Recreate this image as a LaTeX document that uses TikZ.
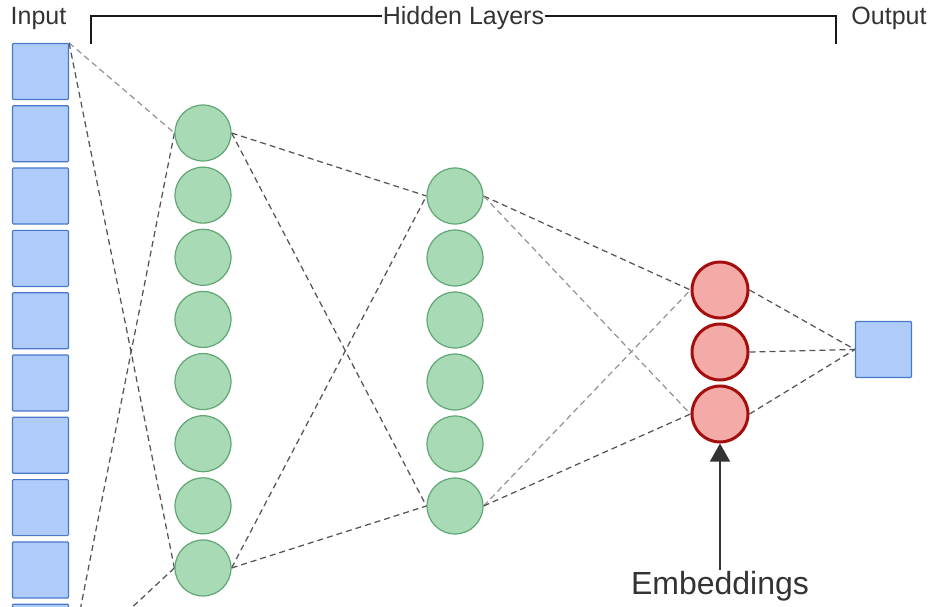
\documentclass[tikz,border=0pt]{standalone}
\usepackage{fontspec}
\setmainfont{Liberation Sans}
\usetikzlibrary{arrows.meta,positioning,backgrounds}
\definecolor{boxfill}{HTML}{AECBFA}
\definecolor{boxedge}{HTML}{4A78C8}
\definecolor{hidfill}{HTML}{A8DAB5}
\definecolor{hidedge}{HTML}{5FA672}
\definecolor{embfill}{HTML}{F4ABA8}
\definecolor{embedge}{HTML}{A50E0E}
\definecolor{txtgray}{HTML}{333333}
\definecolor{linkdark}{HTML}{555555}
\definecolor{linklight}{HTML}{959595}

\begin{document}
\begin{tikzpicture}[
    x=1pt, y=-1pt,
    % --- node styles ---
    inbox/.style={
      rectangle, rounded corners=1pt, draw=boxedge, fill=boxfill,
      line width=1.2pt, minimum size=56pt, inner sep=0pt},
    hidden/.style={
      circle, draw=hidedge, fill=hidfill, line width=1.2pt,
      minimum size=56pt, inner sep=0pt},
    embed/.style={
      circle, draw=embedge, fill=embfill, line width=3pt,
      minimum size=56pt, inner sep=0pt},
    toplabel/.style={
      font=\fontsize{25}{30}\selectfont, text=txtgray,
      text height=18pt, text depth=0pt, inner sep=0pt, inner xsep=1pt},
    emblabel/.style={
      font=\fontsize{32}{38}\selectfont, text=txtgray,
      text height=23pt, text depth=0pt, inner sep=1pt},
    link/.style={draw=linkdark, line width=1.25pt, dash pattern=on 6pt off 4pt},
    lightlink/.style={draw=linklight, line width=1.25pt, dash pattern=on 6pt off 4pt},
    bracket/.style={draw=black!90, line width=2.8pt},
    arr/.style={-{Triangle[width=20pt,length=18pt]}, draw=txtgray, line width=1.2pt},
  ]
  \clip (0,0) rectangle (930,607);

  % ============== INPUT LAYER ==============
  \foreach \k in {1,...,11}
    \node[inbox] (in\k) at (40.5, {71.5+(\k-1)*62.3}) {};

  % ============== HIDDEN LAYERS ==============
  \foreach \k in {1,...,8}
    \node[hidden] (hidA\k) at (203, {133+(\k-1)*62.14}) {};
  \foreach \k in {1,...,6}
    \node[hidden] (hidB\k) at (455, {196+(\k-1)*62}) {};

  % ============== EMBEDDING LAYER ==============
  \foreach \k in {1,2,3}
    \node[embed] (emb\k) at (720, {290+(\k-1)*62}) {};

  % ============== OUTPUT ==============
  \node[inbox] (out) at (883.5,349.5) {};

  % ============== LINKS ==============
  \begin{scope}[on background layer]
    \draw[lightlink] (in1.north east) -- (hidA1.west);
    \draw[link] (in1.north east) -- (hidA8.west);
    \draw[link] (hidA1.west) -- (in11.north east);
    \draw[link] (hidA8.west) -- (in11.north east);

    \draw[link] (hidA1.east) -- (hidB1.west);
    \draw[link] (hidA1.east) -- (hidB6.west);
    \draw[link] (hidA8.east) -- (hidB1.west);
    \draw[link] (hidA8.east) -- (hidB6.west);

    \draw[link] (hidB1.east) -- (emb1.west);
    \draw[lightlink] (hidB1.east) -- (emb3.west);
    \draw[lightlink] (hidB6.east) -- (emb1.west);
    \draw[link] (hidB6.east) -- (emb3.west);

    \draw[link] (emb1.east) -- (out.west);
    \draw[link] (emb2.east) -- (out.west);
    \draw[link] (emb3.east) -- (out.west);
  \end{scope}

  % ============== LABELS ==============
  \node[toplabel] (inlabel)  at (38.5,16) {Input};
  \node[toplabel] (outlabel) at (889,16)  {Output};
  \node[toplabel] (hidlabel) at (463.5,16) {Hidden Layers};

  \coordinate (brL) at (91,44);
  \coordinate (brR) at (836,44);
  \draw[bracket] (brL) |- (hidlabel.west);
  \draw[bracket] (hidlabel.east) -| (brR);

  \node[emblabel] (embtext) at (720,583) {Embeddings};
  \draw[arr] (embtext.north) -- (emb3.south);

\end{tikzpicture}
\end{document}
